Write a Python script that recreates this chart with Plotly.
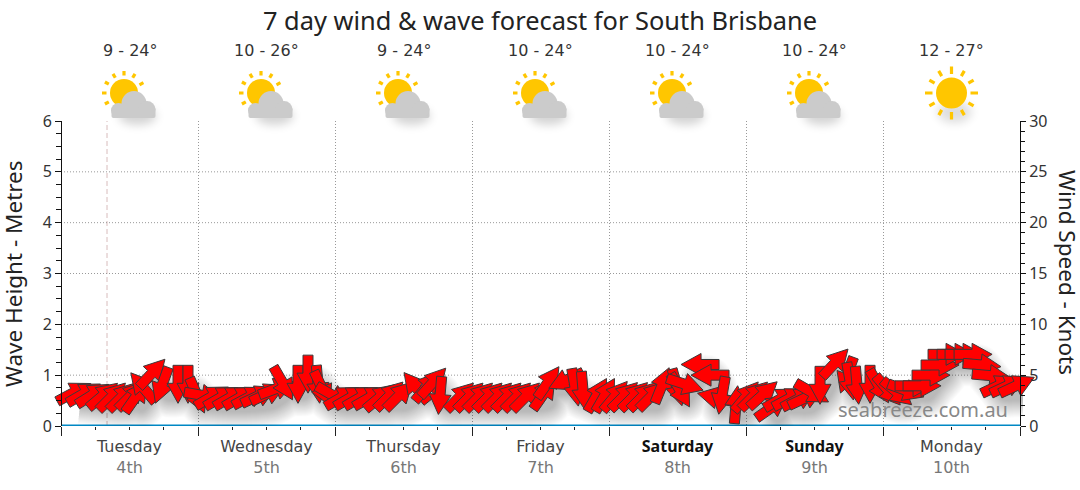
import base64, math
import plotly.graph_objects as go

TITLE = "7 day wind & wave forecast for South Brisbane"
day_names = ["Tuesday", "Wednesday", "Thursday", "Friday", "Saturday", "Sunday", "Monday"]
day_dates = ["4th", "5th", "6th", "7th", "8th", "9th", "10th"]
day_temps = ["9 - 24°", "10 - 26°", "9 - 24°", "10 - 24°", "10 - 24°", "10 - 24°", "12 - 27°"]
day_icons = ["cloud", "cloud", "cloud", "cloud", "cloud", "cloud", "sun"]
weekend = ["Saturday", "Sunday"]
wave_hours = [0, 24, 48, 72, 96, 120, 144, 168]
wave_height = [0, 0, 0, 0, 0, 0, 0, 0]
now_hour = 8.06

wind_hours = [
    2.28, 4.03, 5.61, 7.36, 8.93, 10.69, 12.26, 13.14, 14.37, 15.94, 17.69, 20.50, 22.25, 23.83,
    24.88, 26.45, 28.12, 29.78, 31.45, 33.11, 34.69, 36.26, 37.84, 38.89, 41.52, 43.27, 45.02, 45.73, 47.65,
    49.23, 50.89, 52.56, 54.22, 55.89, 57.55, 59.22, 62.19, 64.12, 65.17, 66.40,
    69.90, 71.57, 73.23, 74.90, 76.56, 78.22, 79.89, 81.46,
    84.62, 85.32, 88.47, 90.05, 91.45, 93.90, 95.30, 97.06, 98.63, 100.39, 101.96, 103.54, 105.29,
    107.92, 108.44, 109.32, 111.95, 113.70, 114.75, 115.80, 118.25, 120.00, 121.41, 122.98, 124.56, 126.14, 127.72, 129.29, 130.52,
    131.57, 132.97, 135.60, 137.70, 138.23, 139.45, 141.73, 143.31, 144.88, 146.46, 148.04, 149.44, 150.84, 152.42, 154.00,
    155.22, 156.80, 158.20, 159.78, 161.35, 162.93, 164.33, 165.91, 167.48,
]
wind_speed = [
    3.3, 3.2, 3.1, 3.0, 2.9, 2.9, 3.0, 2.9, 3.8, 5.2, 4.0, 4.1, 4.1, 3.0,
    3.0, 2.9, 2.85, 2.85, 2.85, 2.9, 3.0, 3.2, 3.7, 4.2, 4.1, 5.1, 4.1, 3.7, 3.0,
    2.85, 2.85, 2.85, 2.85, 2.85, 3.0, 3.0, 3.8, 3.9, 4.3, 3.0,
    2.9, 2.9, 2.9, 2.9, 2.9, 2.9, 2.9, 2.9,
    3.2, 4.3, 4.5, 3.8, 3.5, 3.05, 3.05, 2.95, 2.95, 2.95, 2.95, 3.0, 4.0,
    3.8, 3.5, 4.1, 6.05, 5.0, 2.8, 3.0, 2.1, 2.9, 3.0, 3.1, 1.85, 2.7, 2.75, 2.7, 2.8,
    3.3, 4.0, 6.2, 5.0, 4.4, 4.0, 4.1, 3.9, 3.5, 3.3, 3.5, 3.95, 3.95, 5.0, 6.0,
    7.05, 7.05, 7.05, 7.05, 6.0, 4.95, 4.0, 4.0, 4.0,
]
wind_heading = [
    62, 60, 58, 50, 45, 45, 45, 35, -40, 43, 200, 180, 180, 157,
    100, 60, 60, 60, 60, 62, 65, 65, 70, 150, 180, 180, 175, 155, 120,
    60, 60, 60, 60, 50, 45, 45, -39, 40, 42, 185,
    45, 45, 45, 45, 45, 45, 45, 45,
    35, 35, 245, 170, 175, 30, 30, 40, 45, 45, 45, 45, 22,
    165, 150, 108, 270, 270, 283, 190, 5, 40, 45, 48, 55, 60, 62, 62, 65,
    120, 180, 43, 200, 170, 175, 180, 150, 140, 130, 110, 90, 90, 90, 90,
    90, 90, 90, 90, 95, 95, 65, 65, 65,
]

PX_PER_HOUR = 137 / 24
PX_PER_KNOT = 305 / 30
L, R = 40, 40
X0 = -(61 - L) / PX_PER_HOUR
X1 = 168 + (1040 - 1020) / PX_PER_HOUR


def arrow_outline(hour, speed, heading):
    """Block arrow centred on (hour, speed); its size is fixed in pixels."""
    outline = [(-19, -5), (-1, -5), (-1, -11), (19, 0), (-1, 11), (-1, 5), (-19, 5), (-19, -5)]
    h = math.radians(heading)
    xs, ys = [], []
    for a, c in outline:
        dx = a * math.sin(h) + c * math.cos(h)
        dy = a * math.cos(h) - c * math.sin(h)
        xs.append(hour + dx / PX_PER_HOUR)
        ys.append(speed + dy / PX_PER_KNOT)
    return xs, ys


def icon_uri(kind):
    parts = ['<svg xmlns="http://www.w3.org/2000/svg" width="100" height="100" viewBox="0 0 100 100">',
             '<defs><filter id="b" x="-50%" y="-50%" width="200%" height="200%"><feGaussianBlur stdDeviation="5"/></filter></defs>']
    rays = []
    if kind == "sun":
        cx, cy, r = 50, 43, 15.5
        parts.append('<ellipse cx="53" cy="62" rx="17" ry="11" fill="#000" opacity="0.13" filter="url(#b)"/>')
        for k in range(12):
            a = math.radians(30 * k)
            r1, r2 = (19, 26.5) if k % 3 == 0 else (19.5, 25.5)
            rays.append(f'<line x1="{cx + r1 * math.cos(a):.1f}" y1="{cy + r1 * math.sin(a):.1f}" x2="{cx + r2 * math.cos(a):.1f}" y2="{cy + r2 * math.sin(a):.1f}" stroke="#ffc600" stroke-width="3.2"/>')
        parts += rays
        parts.append(f'<circle cx="{cx}" cy="{cy}" r="{r}" fill="#ffc600"/>')
    else:
        cx, cy, r = 44.5, 43, 14
        parts.append('<ellipse cx="58" cy="66" rx="19" ry="9" fill="#000" opacity="0.17" filter="url(#b)"/>')
        for deg in (-150, -120, -90, -60, -28, 180, 150):
            a = math.radians(deg)
            rays.append(f'<line x1="{cx + 17.5 * math.cos(a):.1f}" y1="{cy + 17.5 * math.sin(a):.1f}" x2="{cx + 22 * math.cos(a):.1f}" y2="{cy + 22 * math.sin(a):.1f}" stroke="#ffc600" stroke-width="3.2"/>')
        parts += rays
        parts.append(f'<circle cx="{cx}" cy="{cy}" r="{r}" fill="#ffc600"/>')
        parts.append('<g fill="#cbcbcb"><rect x="32" y="57" width="44" height="11" rx="2"/>'
                     '<circle cx="39" cy="60.5" r="7.5"/><circle cx="54.5" cy="53.5" r="12.5"/>'
                     '<circle cx="67.5" cy="59.5" r="8.5"/><rect x="39" y="58" width="30" height="10"/></g>')
    parts.append('</svg>')
    svg = "".join(parts)
    return "data:image/svg+xml;base64," + base64.b64encode(svg.encode()).decode()


def paper_y(py):
    return (426 - py) / 305


fig = go.Figure()

fig.add_trace(go.Scatter(x=wave_hours, y=wave_height, mode="lines", name="Wave height",
                         line=dict(color="#0088c4", width=3), yaxis="y", showlegend=False))

# soft shadow beneath the arrows
for w in range(42, 6, -2):
    fig.add_trace(go.Scatter(
        x=[h + 6 / PX_PER_HOUR for h in wind_hours],
        y=[s - 11 / PX_PER_KNOT for s in wind_speed],
        mode="lines", line=dict(color="black", width=w, shape="spline"), opacity=0.011,
        yaxis="y2", hoverinfo="skip", showlegend=False))

# wind arrows, each one its own trace so later arrows cover earlier ones
for hr, sp, hd in zip(wind_hours, wind_speed, wind_heading):
    xs, ys = arrow_outline(hr, sp, hd)
    fig.add_trace(go.Scatter(x=xs, y=ys, mode="lines", fill="toself", fillcolor="#ff0000",
                             line=dict(color="#3a3a3a", width=1), yaxis="y2",
                             hoverinfo="skip", showlegend=False))

noon = [12 + 24 * d for d in range(7)]
tickvals, ticktext = [], []
for d, name in enumerate(day_names):
    if name in weekend:
        label = f'<span style="color:#111;font-family:Noto Sans"><b>{name}</b></span>'
    else:
        label = f'<span style="color:#444">{name}</span>'
    tickvals += [6 + 24 * d, 12 + 24 * d, 18 + 24 * d]
    ticktext += ["", f'{label}<br><span style="color:#777">{day_dates[d]}</span>', ""]

DOT = "1px,2px"
shapes = [dict(type="line", xref="x", yref="y", x0=now_hour, x1=now_hour, y0=0, y1=6, layer="below",
               line=dict(color="#d8bcbc", width=1, dash="5px,3px"))]
for v in (1, 2, 3, 4, 5):
    shapes.append(dict(type="line", xref="x", yref="y", x0=0, x1=168, y0=v, y1=v, layer="below",
                       line=dict(color="#999999", width=1, dash=DOT)))

annotations = [dict(text=t, x=n, y=paper_y(50), xref="x", yref="paper", yanchor="middle", showarrow=False,
                    font=dict(family="DejaVu Sans", size=16, color="#333"))
               for t, n in zip(day_temps, noon)]
annotations.append(dict(text="seabreeze.com.au", x=(1010 - L) / 1000, y=paper_y(409), xref="paper", yref="paper",
                        xanchor="right", yanchor="middle", showarrow=False,
                        font=dict(family="Noto Sans", size=20, color="#888888")))
annotations.append(dict(text="Wave Height - Metres", x=(13 - L) / 1000, y=paper_y(274), xref="paper", yref="paper",
                        xanchor="center", yanchor="middle", textangle=-90, showarrow=False,
                        font=dict(size=22.5, color="#222")))
annotations.append(dict(text="Wind Speed - Knots", x=(1068 - L) / 1000, y=paper_y(272), xref="paper", yref="paper",
                        xanchor="center", yanchor="middle", textangle=90, showarrow=False,
                        font=dict(size=22.5, color="#222")))

images = []
for kind, n in zip(day_icons, noon):
    images.append(dict(source=icon_uri(kind), xref="x", yref="paper", x=n, y=paper_y(93 - 43),
                       sizex=100 / PX_PER_HOUR, sizey=100 / 305, xanchor="center", yanchor="top",
                       sizing="stretch", layer="above"))

fig.update_layout(
    width=1080, height=490, margin=dict(l=L, r=R, t=121, b=64, autoexpand=False),
    paper_bgcolor="white", plot_bgcolor="white", showlegend=False,
    font=dict(family="Noto Sans", color="#333"),
    title=dict(text=TITLE, x=0.5, xanchor="center", y=1 - 21 / 490, yanchor="middle",
               font=dict(family="Noto Sans", size=25.4, color="#222")),
    xaxis=dict(range=[X0, X1], tickmode="array", tickvals=tickvals, ticktext=ticktext, ticks="outside",
               ticklen=3, tickcolor="#222", tickfont=dict(family="DejaVu Sans", size=16), ticklabelstandoff=3,
               showgrid=False, zeroline=False, showline=False,
               minor=dict(tickmode="array", tickvals=wave_hours, ticks="outside", ticklen=9, tickcolor="#222",
                          showgrid=True, gridcolor="#999999", griddash=DOT, gridwidth=1)),
    yaxis=dict(range=[0, 6], tickmode="array", tickvals=[0, 1, 2, 3, 4, 5, 6], anchor="free",
               position=(61 - L) / 1000, side="left", showline=True, linecolor="#111", linewidth=1, ticks="outside",
               ticklen=6, tickcolor="#111", tickfont=dict(size=16), showgrid=False, zeroline=False,
               minor=dict(dtick=0.25, ticks="outside", ticklen=5, tickcolor="#111", showgrid=False)),
    yaxis2=dict(range=[0, 30], tickmode="array", tickvals=[0, 5, 10, 15, 20, 25, 30], anchor="free", overlaying="y",
                position=(1020 - L) / 1000, side="right", showline=True, linecolor="#111", linewidth=1, ticks="outside",
                ticklen=5, tickcolor="#111", tickfont=dict(size=16), showgrid=False, zeroline=False,
                minor=dict(dtick=1, ticks="outside", ticklen=4, tickcolor="#111", showgrid=False)),
    shapes=shapes, annotations=annotations, images=images,
)

fig.write_html("out.html", config=dict(displayModeBar=False),
               post_script="document.body.style.margin='0';document.body.style.overflow='hidden';")
